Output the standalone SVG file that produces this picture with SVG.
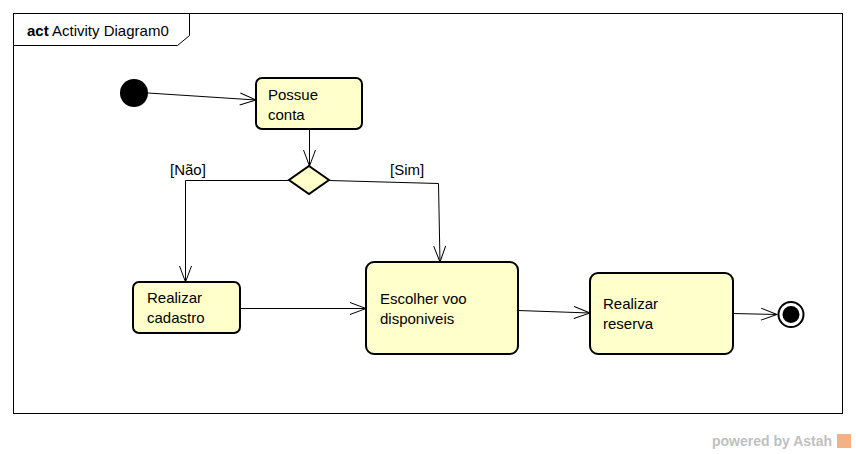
<svg xmlns="http://www.w3.org/2000/svg" width="856" height="454" viewBox="0 0 856 454">
<style>
.node{fill:#ffffcc;stroke:#000;stroke-width:2}
.t{font-family:"Liberation Sans",Arial,sans-serif;font-size:15px;fill:#000}
.lbl{font-family:"Liberation Sans",Arial,sans-serif;font-size:15px;fill:#000}
.e{fill:none;stroke:#000;stroke-width:1}
</style>
<defs>
<marker id="arr" markerWidth="20" markerHeight="16" refX="18" refY="8" orient="auto" markerUnits="userSpaceOnUse">
<path d="M2,2 L18,8 L2,14" fill="none" stroke="#000" stroke-width="1"/>
</marker>
</defs>
<rect x="0" y="0" width="856" height="454" fill="#fff"/>
<g id="frame">
<rect x="13.5" y="13.5" width="829" height="400" fill="none" stroke="#000" stroke-width="1"/>
<polyline points="13.5,45.5 177.5,45.5 189.5,35.5 189.5,13.5" fill="none" stroke="#000" stroke-width="1"/>
<text x="27" y="36" class="lbl" font-size="16"><tspan font-weight="bold">act</tspan> Activity Diagram0</text>
</g>
<g id="connectors">
<line class="e" x1="148" y1="93" x2="256" y2="100" marker-end="url(#arr)"/>
<line class="e" x1="309.5" y1="129" x2="309.5" y2="166" marker-end="url(#arr)"/>
<polyline class="e" points="289,180.5 185.5,180.5 185.5,282" marker-end="url(#arr)"/>
<polyline class="e" points="329,180.5 438.5,183.5 440,262" marker-end="url(#arr)"/>
<line class="e" x1="240" y1="308.5" x2="366" y2="308.5" marker-end="url(#arr)"/>
<line class="e" x1="518" y1="310.5" x2="590" y2="313" marker-end="url(#arr)"/>
<line class="e" x1="733" y1="313.5" x2="777" y2="314.5" marker-end="url(#arr)"/>
<text x="170" y="175" class="lbl">[Não]</text>
<text x="390" y="175" class="lbl">[Sim]</text>
</g>
<g id="initial"><circle cx="134" cy="93" r="14" fill="#000"/></g>
<g id="possue">
<rect class="node" x="256" y="78" width="106" height="51" rx="6"/>
<text class="t" x="268" y="100">Possue</text>
<text class="t" x="268" y="120">conta</text>
</g>
<g id="decision"><polygon class="node" points="309,166 329,180 309,194 289,180"/></g>
<g id="cadastro">
<rect class="node" x="133" y="282" width="107" height="51" rx="6"/>
<text class="t" x="147" y="303">Realizar</text>
<text class="t" x="147" y="323">cadastro</text>
</g>
<g id="escolher">
<rect class="node" x="366" y="262" width="152" height="92" rx="8"/>
<text class="t" x="380" y="304">Escolher voo</text>
<text class="t" x="380" y="324">disponiveis</text>
</g>
<g id="reserva">
<rect class="node" x="590" y="273" width="143" height="81" rx="8"/>
<text class="t" x="603" y="309">Realizar</text>
<text class="t" x="603" y="329">reserva</text>
</g>
<g id="final">
<circle cx="791" cy="314.5" r="12.5" fill="#fff" stroke="#000" stroke-width="2"/>
<circle cx="791" cy="314.5" r="8.5" fill="#000"/>
</g>
<g id="watermark">
<text x="712" y="446" font-family="Liberation Sans,Arial,sans-serif" font-size="14" font-weight="bold" fill="#c0c0c0">powered by Astah</text>
<rect x="837" y="434" width="14" height="14" fill="#f4b183"/>
</g>
</svg>
